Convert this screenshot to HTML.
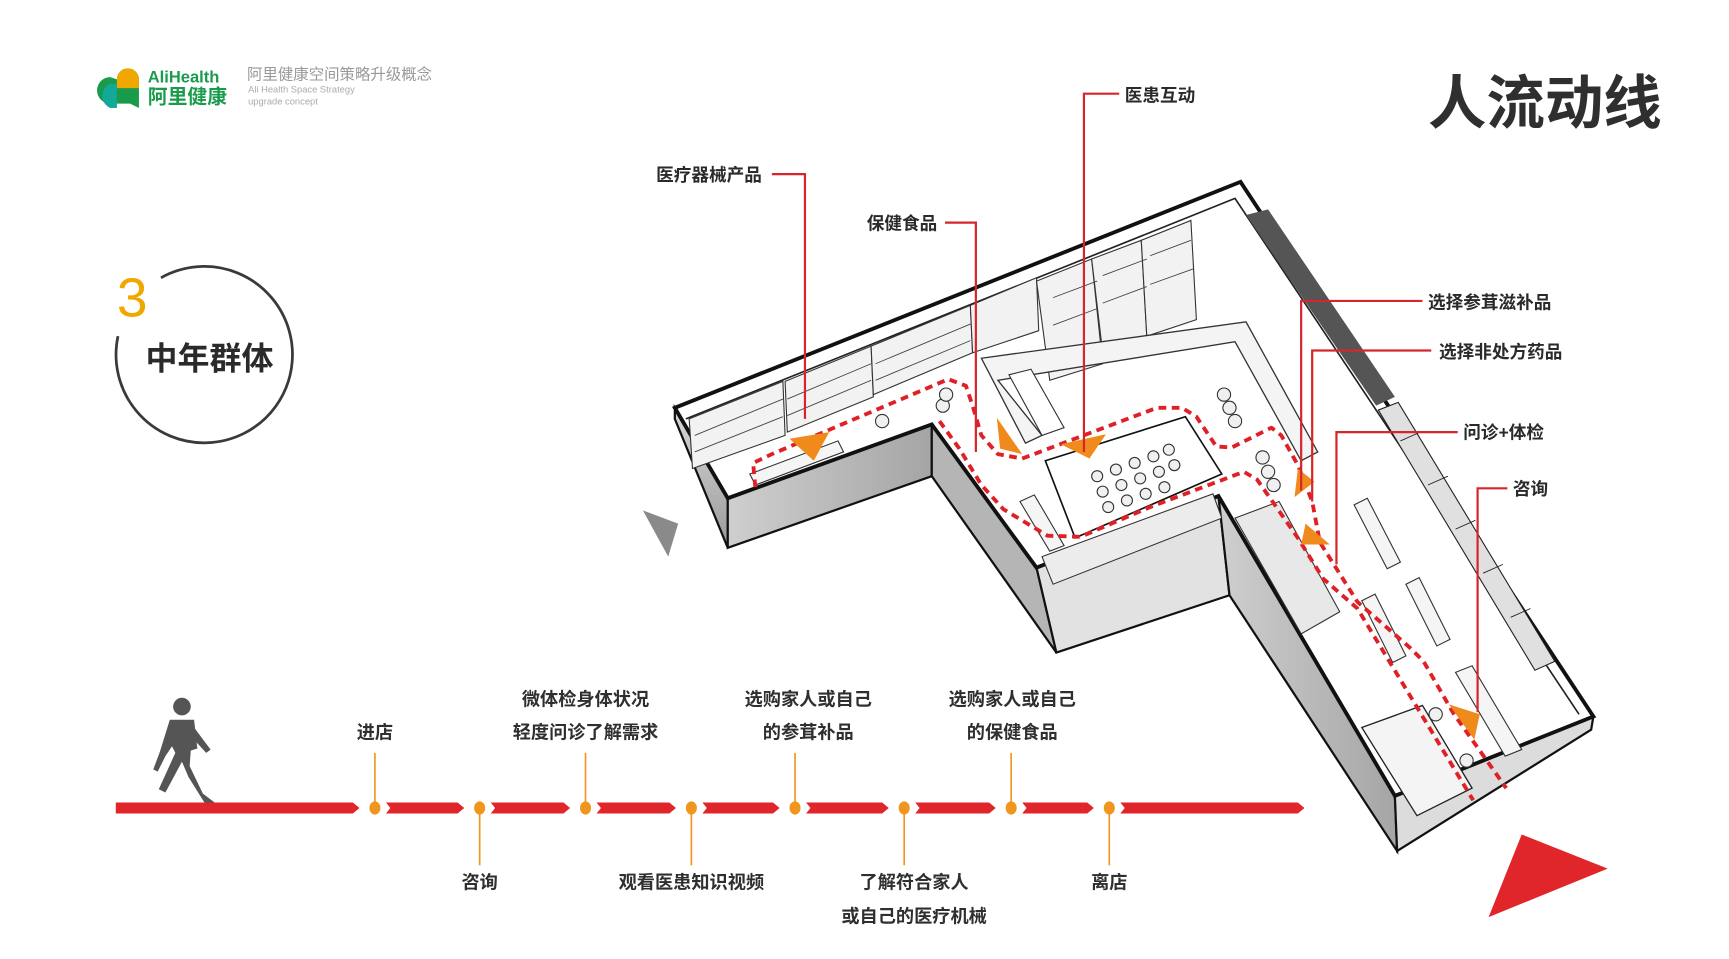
<!DOCTYPE html>
<html><head><meta charset="utf-8"><style>
html,body{margin:0;padding:0;background:#fff;}
svg{display:block;}
text{font-family:"Liberation Sans","Noto Sans CJK SC",sans-serif;}
</style></head><body>
<svg width="1729" height="959" viewBox="0 0 1568 870" preserveAspectRatio="none" xmlns="http://www.w3.org/2000/svg">
<defs>
<linearGradient id="g1" x1="0" y1="0" x2="0" y2="1"><stop offset="0" stop-color="#d8d8d8"/><stop offset="1" stop-color="#9a9a9a"/></linearGradient>
<linearGradient id="g2" x1="0" y1="0" x2="1" y2="0"><stop offset="0" stop-color="#cfcfcf"/><stop offset="1" stop-color="#a5a5a5"/></linearGradient>
</defs>
<rect width="1568" height="870" fill="#fff"/>

<!-- logo -->
<path d="M106,72 a10,10 0 0 1 20,0 V98 L118,94 H100 a12,12 0 0 1 0,-24 Z" fill="#1a9b4b"/>
<path d="M106,72 a10,10 0 0 1 20,0 V80 H106 Z" fill="#f0a800"/>
<path d="M106,76 H100 a12,12 0 0 0 0,22 H106 Z" fill="#12a89a"/>
<text x="134" y="75" font-size="15" font-weight="bold" fill="#1a9b4b">AliHealth</text>
<text x="134" y="94" font-size="18" font-weight="bold" fill="#1a9b4b">阿里健康</text>
<text x="224" y="72" font-size="14" fill="#999">阿里健康空间策略升级概念</text>
<text x="225" y="84" font-size="8.5" fill="#aaa">Ali Health Space Strategy</text>
<text x="225" y="95" font-size="8.5" fill="#aaa">upgrade concept</text>

<!-- title -->
<text x="1295" y="112" font-size="53" font-weight="bold" fill="#2f2f2f">人流动线</text>

<!-- circle -->
<path d="M146,252 A80,80 0 1 1 107,305" fill="none" stroke="#3a3a3a" stroke-width="2.5"/>
<text x="106" y="287" font-size="50" fill="#f0a800">3</text>
<text x="132" y="335" font-size="29" font-weight="bold" fill="#2a2a2a">中年群体</text>

<!-- building -->
<polygon points="612,370 660,452 660,497 612,380" fill="url(#g1)" stroke="#111" stroke-width="2"/>
<polygon points="660,452 845,385 845,432 660,497" fill="url(#g2)" stroke="#111" stroke-width="2"/>
<polygon points="845,385 940,515 958,592 845,432" fill="#b5b5b5" stroke="#111" stroke-width="2"/>
<polygon points="940,515 1105,450 1115,540 958,592" fill="#e2e2e2" stroke="#111" stroke-width="2"/>
<polygon points="1105,450 1265,722 1267,772 1115,540" fill="url(#g2)" stroke="#111" stroke-width="2"/>
<polygon points="1265,722 1445,650 1443,662 1267,772" fill="#dcdcdc" stroke="#111" stroke-width="2"/>
<polygon points="612,370 1125,165 1445,650 1265,722 1105,450 940,515 845,385 660,452" fill="#fff" stroke="#111" stroke-width="3.5"/>
<polyline points="622,380 1120,180 1432,648" fill="none" stroke="#222" stroke-width="1.5"/>
<polygon points="945,505 1100,448 1108,470 955,530" fill="#ececec" stroke="#333" stroke-width="1"/>
<polygon points="1120,470 1160,455 1215,555 1180,575" fill="#e8e8e8" stroke="#333" stroke-width="1"/>
<polygon points="1235,660 1290,640 1335,715 1285,740" fill="#f4f4f4" stroke="#222" stroke-width="1.2"/>
<g stroke="#333" stroke-width="1" fill="#f2f2f2">
<polygon points="625,380 710,346 712,395 628,425"/>
<polygon points="712,346 790,314 792,360 714,392"/>
<polygon points="790,314 880,277 882,320 792,358"/>
<polygon points="880,277 940,252 942,300 882,320"/>
<polygon points="940,255 990,235 1000,330 952,345"/>
<polygon points="990,235 1035,218 1040,305 1000,320"/>
<polygon points="1035,218 1080,200 1085,290 1040,305"/>
</g>
<g stroke="#444" stroke-width="0.8">
<line x1="630" y1="395" x2="710" y2="362"/><line x1="630" y1="410" x2="710" y2="378"/>
<line x1="714" y1="362" x2="790" y2="330"/><line x1="714" y1="377" x2="790" y2="345"/>
<line x1="794" y1="330" x2="880" y2="294"/><line x1="794" y1="345" x2="880" y2="309"/>
<line x1="955" y1="270" x2="995" y2="255"/><line x1="955" y1="295" x2="995" y2="280"/>
<line x1="1000" y1="250" x2="1040" y2="235"/><line x1="1000" y1="275" x2="1040" y2="260"/>
<line x1="1043" y1="232" x2="1080" y2="218"/><line x1="1043" y1="258" x2="1082" y2="244"/>
</g>
<polygon points="1130,195 1150,190 1265,360 1248,368" fill="#555"/>
<polygon points="1250,372 1268,365 1410,600 1392,608" fill="#e0e0e0" stroke="#222" stroke-width="1"/>
<g stroke="#222" stroke-width="0.8"><line x1="1270" y1="400" x2="1288" y2="392"/><line x1="1295" y1="440" x2="1313" y2="432"/><line x1="1320" y1="480" x2="1338" y2="472"/><line x1="1345" y1="520" x2="1363" y2="512"/><line x1="1370" y1="560" x2="1388" y2="552"/></g>
<polygon points="890,325 1130,292 1195,410 1180,418 1120,310 905,345 945,395 930,402" fill="#f4f4f4" stroke="#333" stroke-width="1.2"/>
<polygon points="915,340 945,395 965,388 935,335" fill="#fff" stroke="#333" stroke-width="1"/>
<polygon points="948,418 1075,378 1108,430 975,488" fill="#fff" stroke="#111" stroke-width="1.5"/>
<g fill="#f0f0f0" stroke="#333" stroke-width="1">
<circle cx="995" cy="432" r="5"/><circle cx="1012" cy="426" r="5"/><circle cx="1029" cy="420" r="5"/><circle cx="1046" cy="414" r="5"/><circle cx="1060" cy="408" r="5"/>
<circle cx="1000" cy="446" r="5"/><circle cx="1017" cy="440" r="5"/><circle cx="1034" cy="434" r="5"/><circle cx="1051" cy="428" r="5"/><circle cx="1065" cy="422" r="5"/>
<circle cx="1005" cy="460" r="5"/><circle cx="1022" cy="454" r="5"/><circle cx="1039" cy="448" r="5"/><circle cx="1056" cy="442" r="5"/>
<circle cx="800" cy="382" r="6"/><circle cx="855" cy="368" r="6"/><circle cx="858" cy="358" r="6"/>
<circle cx="1110" cy="358" r="6"/><circle cx="1115" cy="370" r="6"/><circle cx="1120" cy="382" r="6"/>
<circle cx="1145" cy="415" r="6"/><circle cx="1150" cy="428" r="6"/><circle cx="1155" cy="440" r="6"/>
<circle cx="1302" cy="648" r="6"/><circle cx="1330" cy="690" r="6"/>
</g>
<g fill="#f5f5f5" stroke="#333" stroke-width="1">
<polygon points="1228,458 1240,452 1270,510 1258,516"/>
<polygon points="1275,530 1287,524 1315,580 1303,586"/>
<polygon points="1235,545 1247,539 1275,595 1263,601"/>
<polygon points="1320,610 1335,604 1380,680 1365,686"/>
<polygon points="925,455 938,449 965,495 952,500"/>
<polygon points="680,430 760,400 765,410 685,440"/>
</g>

<g fill="none" stroke="#e02027" stroke-width="3.5" stroke-dasharray="7,5" stroke-linejoin="round">
<polyline points="685,442 683,420 700,412 860,344 876,350 882,368 890,395 905,412 927,416 1049,370 1072,370 1085,378 1103,405 1117,406 1153,388 1162,395 1177,422 1190,455 1197,492 1231,546 1278,587 1291,600 1318,647 1366,715"/>
<polyline points="852,382 870,407 890,440 910,462 950,486 980,487 1043,460 1128,428 1140,435 1177,488 1200,525 1231,552 1336,726"/>
</g>
<g fill="#f08a1c">
<polygon points="716,398 752,392 738,418"/>
<polygon points="904,379 907,407 927,412"/>
<polygon points="962,403 1003,394 988,416"/>
<polygon points="1177,425 1192,437 1174,451"/>
<polygon points="1184,475 1206,494 1180,494"/>
<polygon points="1314,639 1342,648 1337,671"/>
</g>

<g fill="none" stroke="#d6262c" stroke-width="2">
<polyline points="700,158 730,158 730,380"/>
<polyline points="857,202 885,202 885,410"/>
<polyline points="1015,85 983,85 983,410"/>
<polyline points="1290,273 1180,273 1180,445"/>
<polyline points="1298,318 1190,318 1190,455"/>
<polyline points="1322,392 1212,392 1212,512"/>
<polyline points="1367,443 1340,443 1340,646"/>
</g>
<g font-size="16" font-weight="bold" fill="#2a2a2a">
<text x="595" y="164">医疗器械产品</text>
<text x="786" y="208">保健食品</text>
<text x="1020" y="92">医患互动</text>
<text x="1295" y="280">选择参茸滋补品</text>
<text x="1305" y="325">选择非处方药品</text>
<text x="1327" y="398">问诊+体检</text>
<text x="1372" y="449">咨询</text>
</g>

<polygon points="583,463 615,475 606,505" fill="#8a8a8a"/>
<polygon points="1350,832 1380,757 1458,788" fill="#e0252b"/>

<g fill="#555">
<circle cx="165" cy="641" r="8"/>
<path d="M154,653 h22 l3,26 l-6,2 l-1,14 l12,25 l12,9 h-10 l-15,-24 l-6,-14 l-15,28 l-6,-3 l15,-33 l-3,-6 l-6,9 l-7,14 l-4,-2 l6,-16 z"/>
<path d="M176,660 l15,20 l-4,3 l-12,-13 z"/>
</g>

<g fill="#e0252b">
<polygon points="105,728 320,728 326,733 320,738 105,738"/>
<polygon points="350,728 415,728 421,733 415,738 350,738 354,733"/>
<polygon points="445,728 511,728 517,733 511,738 445,738 449,733"/>
<polygon points="541,728 607,728 613,733 607,738 541,738 545,733"/>
<polygon points="637,728 701,728 707,733 701,738 637,738 641,733"/>
<polygon points="731,728 800,728 806,733 800,738 731,738 735,733"/>
<polygon points="830,728 897,728 903,733 897,738 830,738 834,733"/>
<polygon points="927,728 986,728 992,733 986,738 927,738 931,733"/>
<polygon points="1016,728 1177,728 1183,733 1177,738 1016,738 1020,733"/>
</g>
<g stroke="#f0961e" stroke-width="1.5">
<line x1="340" y1="683" x2="340" y2="733"/><line x1="531" y1="683" x2="531" y2="733"/>
<line x1="721" y1="683" x2="721" y2="733"/><line x1="917" y1="683" x2="917" y2="733"/>
<line x1="435" y1="733" x2="435" y2="785"/><line x1="627" y1="733" x2="627" y2="785"/>
<line x1="820" y1="733" x2="820" y2="785"/><line x1="1006" y1="733" x2="1006" y2="785"/>
</g>
<g fill="#f0961e">
<ellipse cx="340" cy="733" rx="5" ry="6"/><ellipse cx="435" cy="733" rx="5" ry="6"/>
<ellipse cx="531" cy="733" rx="5" ry="6"/><ellipse cx="627" cy="733" rx="5" ry="6"/>
<ellipse cx="721" cy="733" rx="5" ry="6"/><ellipse cx="820" cy="733" rx="5" ry="6"/>
<ellipse cx="917" cy="733" rx="5" ry="6"/><ellipse cx="1006" cy="733" rx="5" ry="6"/>
</g>
<g font-size="16.5" font-weight="bold" fill="#2f2f2f" text-anchor="middle">
<text x="340" y="670">进店</text>
<text x="531" y="640">微体检身体状况</text>
<text x="531" y="670">轻度问诊了解需求</text>
<text x="733" y="640">选购家人或自己</text>
<text x="733" y="670">的参茸补品</text>
<text x="918" y="640">选购家人或自己</text>
<text x="918" y="670">的保健食品</text>
<text x="435" y="806">咨询</text>
<text x="627" y="806">观看医患知识视频</text>
<text x="829" y="806">了解符合家人</text>
<text x="829" y="837">或自己的医疗机械</text>
<text x="1006" y="806">离店</text>
</g>
</svg>
</body></html>
